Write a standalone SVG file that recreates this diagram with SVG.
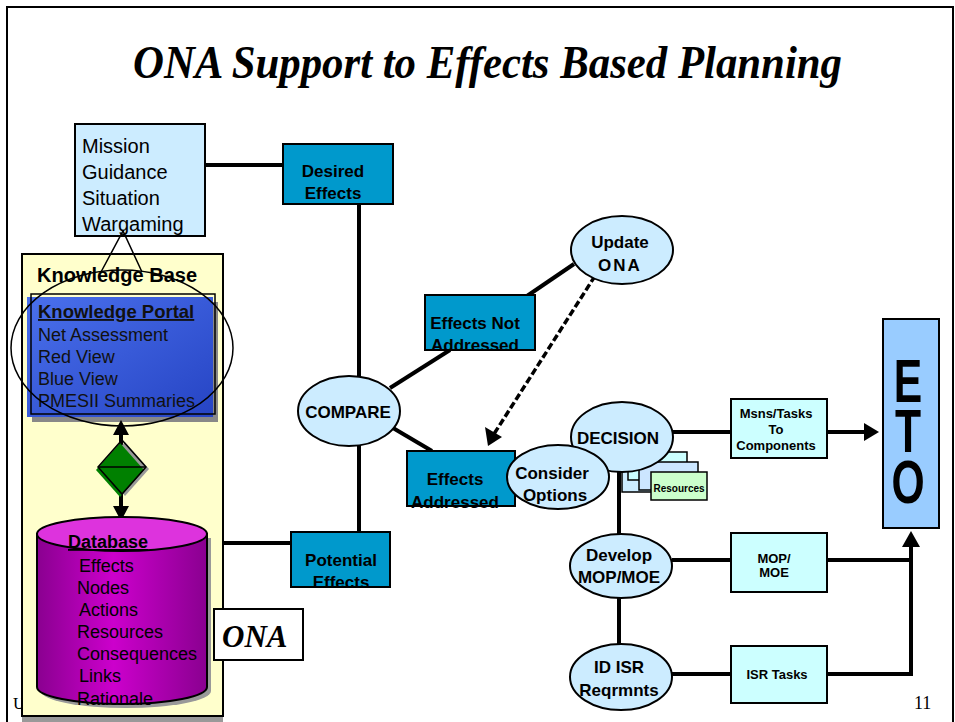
<svg xmlns="http://www.w3.org/2000/svg" width="955" height="722" viewBox="0 0 955 722">
<defs>
<style>
.ln{stroke:#000;stroke-width:4;fill:none}
.bx{stroke:#000;stroke-width:2}
.teal{fill:#0099CC}
.lb{fill:#CCECFF}
.ell{fill:#CCECFF;stroke:#000;stroke-width:2}
.sans{font-family:"Liberation Sans",Arial,sans-serif}
.b{font-weight:bold}
.lbl{font-family:"Liberation Sans",Arial,sans-serif;font-weight:bold;font-size:17px;text-anchor:middle}
.sm{font-family:"Liberation Sans",Arial,sans-serif;font-weight:bold;font-size:13px;text-anchor:middle}
.reg{font-family:"Liberation Sans",Arial,sans-serif;font-size:18px}
</style>
<linearGradient id="blue" x1="0" y1="0" x2="1" y2="1">
<stop offset="0" stop-color="#4A70EC"/>
<stop offset="1" stop-color="#2644C4"/>
</linearGradient>
<linearGradient id="mag" x1="0" y1="0" x2="1" y2="0">
<stop offset="0" stop-color="#8A0090"/>
<stop offset="0.45" stop-color="#CC00CC"/>
<stop offset="1" stop-color="#8A0090"/>
</linearGradient>
</defs>
<rect width="955" height="722" fill="#fff"/>
<path d="M7,722 L7,7 L953,7 L953,722" fill="none" stroke="#000" stroke-width="2"/>
<text x="133" y="78" textLength="709" lengthAdjust="spacingAndGlyphs" font-family="'Liberation Serif','Times New Roman',serif" font-weight="bold" font-style="italic" font-size="46">ONA Support to Effects Based Planning</text>
<text x="13" y="709" font-family="'Liberation Serif','Times New Roman',serif" font-size="17">U</text>
<text x="914" y="709" font-family="'Liberation Serif','Times New Roman',serif" font-size="18">11</text>

<g id="connectors">
<line class="ln" x1="205" y1="165" x2="283" y2="165"/>
<line class="ln" x1="359" y1="204" x2="359" y2="378"/>
<line class="ln" x1="359" y1="445" x2="359" y2="532"/>
<line class="ln" x1="223" y1="543" x2="291" y2="543"/>
<line class="ln" x1="390" y1="388" x2="450" y2="350"/>
<line class="ln" x1="527" y1="296" x2="574" y2="264"/>
<line class="ln" x1="393" y1="428" x2="432" y2="451"/>
<line x1="595" y1="276" x2="494" y2="434" stroke="#000" stroke-width="3.5" stroke-dasharray="7 3"/>
<polygon points="488,446 485,427 502,437" fill="#000"/>
<line class="ln" x1="619" y1="468" x2="619" y2="536"/>
<line class="ln" x1="619" y1="598" x2="619" y2="646"/>
<line class="ln" x1="672" y1="432" x2="731" y2="432"/>
<line class="ln" x1="827" y1="432" x2="866" y2="432"/>
<polygon points="879,432 864,423 864,441" fill="#000"/>
<line class="ln" x1="672" y1="560" x2="731" y2="560"/>
<line class="ln" x1="827" y1="560" x2="911" y2="560"/>
<line class="ln" x1="672" y1="674" x2="731" y2="674"/>
<path class="ln" d="M827,674 L911,674 L911,545"/>
<polygon points="911,531 902,547 920,547" fill="#000"/>
</g>

<g id="knowledge-base">
<rect x="22" y="260" width="201" height="462" fill="#999"/>
<rect x="22" y="254" width="201" height="462" fill="#FFFFCC" stroke="#000" stroke-width="2"/>
<text x="37" y="282" class="sans b" font-size="20">Knowledge Base</text>
</g>

<g id="knowledge-portal">
<rect x="32" y="302" width="186" height="120" fill="#888"/>
<rect x="27" y="297" width="186" height="120" fill="url(#blue)"/>
<rect x="31" y="294" width="184" height="120" fill="none" stroke="#000" stroke-width="1.5"/>
<text x="38" y="318" class="sans b" font-size="18.5" fill="#111" text-decoration="underline">Knowledge Portal</text>
<text x="38" y="341" class="reg" fill="#111">Net Assessment</text>
<text x="38" y="363" class="reg" fill="#111">Red View</text>
<text x="38" y="385" class="reg" fill="#111">Blue View</text>
<text x="38" y="407" class="reg" fill="#111">PMESII Summaries</text>
</g>

<g id="mission">
<rect x="75" y="124" width="130" height="112" class="lb bx"/>
<text x="82" y="153" class="sans" font-size="20">Mission</text>
<text x="82" y="179" class="sans" font-size="20">Guidance</text>
<text x="82" y="205" class="sans" font-size="20">Situation</text>
<text x="82" y="231" class="sans" font-size="20">Wargaming</text>
</g>

<g id="callout">
<ellipse cx="122" cy="348" rx="111" ry="78" fill="none" stroke="#000" stroke-width="1.5"/>
<path d="M101,272 L123,231 L142,272" fill="none" stroke="#000" stroke-width="1.5"/>
</g>

<g id="portal-db-link">
<line class="ln" x1="121" y1="432" x2="121" y2="508"/>
<polygon points="121,420 113,435 129,435" fill="#000"/>
<polygon points="121,521 113,506 129,506" fill="#000"/>
<polygon points="125,442 149,469 125,496 101,469" fill="#999"/>
<polygon points="120,443 144,470 120,497 96,470" fill="#008000"/>
<polygon points="122,440 146,467 122,494 98,467" fill="none" stroke="#000" stroke-width="1.5"/>
<line x1="98" y1="467" x2="146" y2="467" stroke="#000" stroke-width="1.5"/>
</g>

<g id="database">
<path d="M41,538 L41,691 A85,17 0 0 0 211,691 L211,538 Z" fill="#999"/>
<path d="M37,534 L37,687 A85,17 0 0 0 207,687 L207,534 Z" fill="url(#mag)" stroke="#000" stroke-width="2"/>
<ellipse cx="122" cy="534" rx="85" ry="17" fill="#DD33DD" stroke="#000" stroke-width="2"/>
<text x="68" y="548" class="sans b" font-size="18" text-decoration="underline">Database</text>
<text x="79" y="572" class="reg">Effects</text>
<text x="77" y="594" class="reg">Nodes</text>
<text x="79" y="616" class="reg">Actions</text>
<text x="77" y="638" class="reg">Resources</text>
<text x="77" y="660" class="reg">Consequences</text>
<text x="79" y="682" class="reg">Links</text>
<text x="77" y="705" class="reg">Rationale</text>
</g>

<g id="ona-label">
<rect x="214" y="609" width="89" height="51" fill="#fff" class="bx"/>
<text x="222" y="647" font-family="'Liberation Serif','Times New Roman',serif" font-weight="bold" font-style="italic" font-size="31">ONA</text>
</g>

<g id="desired-effects">
<rect x="283" y="144" width="110" height="60" class="teal bx"/>
<text x="333" y="177" class="lbl">Desired</text>
<text x="333" y="199" class="lbl">Effects</text>
</g>

<g id="potential-effects">
<rect x="291" y="532" width="99" height="55" class="teal bx"/>
<text x="341" y="566" class="lbl">Potential</text>
<text x="341" y="588" class="lbl">Effects</text>
</g>

<g id="compare">
<ellipse cx="349" cy="411" rx="51" ry="35" class="ell"/>
<text x="348" y="418" class="lbl" font-size="17.5">COMPARE</text>
</g>

<g id="effects-not-addressed">
<rect x="425" y="295" width="110" height="55" class="teal bx"/>
<text x="475" y="329" class="lbl">Effects Not</text>
<text x="475" y="351" class="lbl">Addressed</text>
</g>

<g id="update-ona">
<ellipse cx="622" cy="250" rx="51" ry="34" class="ell"/>
<text x="620" y="248" class="lbl">Update</text>
<text x="620" y="271" class="lbl" letter-spacing="2">ONA</text>
</g>

<g id="effects-addressed">
<rect x="407" y="451" width="108" height="55" class="teal bx"/>
<text x="455" y="485" class="lbl">Effects</text>
<text x="455" y="508" class="lbl">Addressed</text>
</g>

<g id="option-stack">
<rect x="622" y="466" width="50" height="26" fill="#CCECFF" stroke="#000" stroke-width="1.5"/>
<rect x="628" y="452" width="59" height="28" fill="#CCFFFF" stroke="#000" stroke-width="1.5"/>
<rect x="639" y="462" width="59" height="28" fill="#CCE6FF" stroke="#000" stroke-width="1.5"/>
<rect x="651" y="472" width="56" height="28" fill="#CCFFCC" stroke="#000" stroke-width="1.5"/>
<text x="679" y="492" class="sans b" font-size="10" text-anchor="middle">Resources</text>
</g>

<g id="decision">
<ellipse cx="622" cy="437" rx="51" ry="35" class="ell"/>
<text x="618" y="444" class="lbl">DECISION</text>
</g>

<g id="consider-options">
<ellipse cx="558" cy="477" rx="51" ry="32" class="ell"/>
<text x="552" y="479" class="lbl">Consider</text>
<text x="555" y="501" class="lbl">Options</text>
</g>

<g id="develop">
<ellipse cx="621" cy="566" rx="51" ry="32" class="ell"/>
<text x="619" y="561" class="lbl">Develop</text>
<text x="619" y="583" class="lbl">MOP/MOE</text>
</g>

<g id="id-isr">
<ellipse cx="621" cy="677" rx="51" ry="33" class="ell"/>
<text x="619" y="673" class="lbl">ID ISR</text>
<text x="619" y="696" class="lbl">Reqrmnts</text>
</g>

<g id="msns-tasks">
<rect x="731" y="399" width="96" height="59" fill="#CCFFFF" class="bx"/>
<text x="776" y="418" class="sm">Msns/Tasks</text>
<text x="776" y="434" class="sm">To</text>
<text x="776" y="450" class="sm">Components</text>
</g>

<g id="mop-moe">
<rect x="731" y="533" width="96" height="59" fill="#CCFFFF" class="bx"/>
<text x="774" y="563" class="sm">MOP/</text>
<text x="774" y="577" class="sm">MOE</text>
</g>

<g id="isr-tasks">
<rect x="731" y="646" width="96" height="57" fill="#CCFFFF" class="bx"/>
<text x="777" y="679" class="sm">ISR Tasks</text>
</g>

<g id="eto">
<rect x="883" y="319" width="56" height="209" fill="#99CCFF" class="bx"/>
<text transform="translate(908,0) scale(0.7,1)" class="sans b" font-size="61" text-anchor="middle"><tspan x="0" y="402">E</tspan><tspan x="0" y="452">T</tspan><tspan x="0" y="503">O</tspan></text>
</g>
</svg>
